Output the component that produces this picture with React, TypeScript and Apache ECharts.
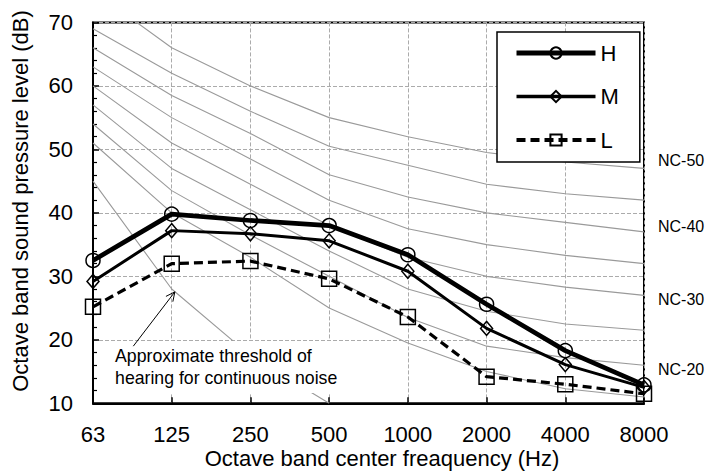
import React, { useEffect, useRef } from 'react';
import * as echarts from 'echarts';

const freqLabels = ['63', '125', '250', '500', '1000', '2000', '4000', '8000'];

const hValues = [32.5, 39.8, 38.8, 38.0, 33.4, 25.6, 18.3, 12.9];
const mValues = [29.2, 37.2, 36.7, 35.6, 30.8, 21.8, 16.1, 12.5];
const lValues = [25.2, 32.0, 32.4, 29.6, 23.6, 14.2, 13.0, 11.5];

const nc50 = [75, 66, 60, 55, 52, 49.5, 48, 47];
const nc45 = [69, 62, 56, 50.5, 47.5, 44.5, 43, 42];
const nc40 = [66, 58.5, 52.5, 46, 42.5, 40, 38.5, 37];
const nc35 = [63, 55, 48.5, 42, 37.5, 35, 33.3, 32];
const nc30 = [60, 51, 44.5, 38, 33, 30, 28.3, 27];
const nc25 = [57, 47, 40.5, 34, 28, 24.5, 22.5, 21.5];
const nc20 = [54, 43.5, 36.5, 30, 23.5, 19, 17.2, 16];
const nc15 = [51, 40, 33, 25, 19.5, 15, 12.3, 11];
const thresholdValues = [45, 28, 17.5, 10];

const ncLabels = ['NC-50', '', 'NC-40', '', 'NC-30', '', 'NC-20', ''];
const ncLabelOffsets = [-8, 0, -5, 0, 4, 0, 4, 0];

const yTitle = 'Octave band sound pressure level (dB)';
const xTitle = 'Octave band center freaquency (Hz)';
const noteLines = ['Approximate threshold of', 'hearing for continuous noise'];
// annotation anchor points in data coordinates [band index, dB]
const noteAnchor = [0.28, 17.46];
const arrowTail = [0.512, 19.0];
const arrowTip = [1.04, 27.55];

const FONT = 'Arial, "Liberation Sans", sans-serif';

export default function App() {
  const ref = useRef<HTMLDivElement>(null);
  useEffect(() => {
    const chart = echarts.init(ref.current!, null, { renderer: 'svg' });
    const toPts = (arr: number[]) => arr.map((v, i) => [i, v]);
    const ncCurves = [nc50, nc45, nc40, nc35, nc30, nc25, nc20, nc15];
    const ncSeries: any[] = ncCurves.map((c, k) => ({
      type: 'line',
      name: 'nc' + k,
      data: toPts(c),
      silent: true,
      symbol: 'none',
      clip: true,
      z: 1,
      lineStyle: { color: '#9a9a9a', width: 1.1 },
      endLabel: ncLabels[k]
        ? {
            show: true,
            formatter: ncLabels[k],
            color: '#000',
            fontSize: 16,
            fontFamily: FONT,
            distance: 14,
            offset: [0, ncLabelOffsets[k]],
          }
        : { show: false },
    }));
    ncSeries.push({
      type: 'line',
      name: 'threshold',
      data: toPts(thresholdValues),
      silent: true,
      symbol: 'none',
      clip: true,
      z: 1,
      lineStyle: { color: '#9a9a9a', width: 1.1 },
    });

    const option: any = {
      animation: false,
      backgroundColor: '#fff',
      grid: {
        left: 93,
        right: 77,
        top: 22.4,
        bottom: 69.7,
        show: true,
        borderColor: '#000',
        borderWidth: 2,
        containLabel: false,
      },
      legend: {
        data: [
          { name: 'H', lineStyle: { width: 5, color: '#000' } },
          { name: 'M', lineStyle: { width: 3.6, color: '#000' } },
          { name: 'L', lineStyle: { width: 4, type: [9, 5], color: '#000' } },
        ],
        orient: 'vertical',
        left: 497,
        top: 32,
        itemWidth: 79,
        itemHeight: 14,
        itemGap: 21.5,
        padding: [10, 21, 11, 17],
        borderColor: '#000',
        borderWidth: 1.5,
        backgroundColor: '#fff',
        textStyle: { fontSize: 22, color: '#000', fontFamily: FONT },
        z: 10,
      },
      xAxis: {
        type: 'value',
        min: 0,
        max: 7,
        interval: 1,
        axisLine: { show: true, lineStyle: { color: '#000', width: 2 } },
        axisTick: { show: true, inside: true, length: 6, lineStyle: { color: '#000', width: 1.5 } },
        axisLabel: {
          formatter: (v: number) => freqLabels[Math.round(v)] ?? '',
          fontSize: 22,
          color: '#000',
          fontFamily: FONT,
          margin: 20,
        },
        splitLine: { show: true, lineStyle: { color: '#ababab', type: [4, 2], width: 1 } },
      },
      yAxis: {
        type: 'value',
        min: 10,
        max: 70,
        interval: 10,
        axisLine: { show: true, lineStyle: { color: '#000', width: 2 } },
        axisTick: { show: true, inside: true, length: 6, lineStyle: { color: '#000', width: 1.5 } },
        minorTick: { show: true, splitNumber: 5, length: 4, lineStyle: { color: '#000', width: 1.2 } },
        axisLabel: { fontSize: 22, color: '#000', fontFamily: FONT, margin: 20 },
        splitLine: { show: true, lineStyle: { color: '#ababab', type: [4, 2], width: 1 } },
      },
      series: [
        ...ncSeries,
        {
          type: 'line',
          name: 'H',
          data: toPts(hValues),
          symbol: 'circle',
          symbolSize: 14,
          z: 5,
          lineStyle: { color: '#000', width: 4.7 },
          itemStyle: { color: 'transparent', borderColor: '#000', borderWidth: 1.5 },
        },
        {
          type: 'line',
          name: 'M',
          data: toPts(mValues),
          symbol: 'diamond',
          symbolSize: [12, 14],
          z: 5,
          lineStyle: { color: '#000', width: 3 },
          itemStyle: { color: 'transparent', borderColor: '#000', borderWidth: 1.5 },
        },
        {
          type: 'line',
          name: 'L',
          data: toPts(lValues),
          symbol: 'rect',
          symbolSize: 15,
          z: 5,
          lineStyle: { color: '#000', width: 3.2, type: [9, 5] },
          itemStyle: { color: 'transparent', borderColor: '#000', borderWidth: 1.5 },
        },
      ],
    };
    chart.setOption(option);

    const p = (d: number[]) => chart.convertToPixel({ xAxisIndex: 0, yAxisIndex: 0 }, d) as number[];
    const a = p(noteAnchor);
    const t0 = p(arrowTail);
    const t1 = p(arrowTip);
    const ang = Math.atan2(t1[1] - t0[1], t1[0] - t0[0]);
    const hl = 10;
    const spread = 0.45;
    const h1 = [t1[0] - hl * Math.cos(ang - spread), t1[1] - hl * Math.sin(ang - spread)];
    const h2 = [t1[0] - hl * Math.cos(ang + spread), t1[1] - hl * Math.sin(ang + spread)];

    chart.setOption({
      graphic: [
        {
          type: 'text',
          x: 20,
          y: 201,
          rotation: Math.PI / 2,
          style: {
            text: yTitle,
            fontSize: 22,
            fontFamily: FONT,
            fill: '#000',
            textAlign: 'center',
            textVerticalAlign: 'middle',
          },
        },
        {
          type: 'text',
          x: 382,
          y: 458,
          style: {
            text: xTitle,
            fontSize: 22,
            fontFamily: FONT,
            fill: '#000',
            textAlign: 'center',
            textVerticalAlign: 'middle',
          },
        },
        {
          type: 'text',
          x: a[0] - 4,
          y: a[1] - 11 - 4,
          z: 20,
          style: {
            text: noteLines.join('\n'),
            fontSize: 17.7,
            lineHeight: 22,
            fontFamily: FONT,
            fill: '#000',
            backgroundColor: '#fff',
            padding: [4, 0, 4, 4],
            textAlign: 'left',
            textVerticalAlign: 'top',
          },
        },
        {
          type: 'line',
          z: 20,
          shape: { x1: t0[0], y1: t0[1], x2: t1[0], y2: t1[1] },
          style: { stroke: '#000', lineWidth: 1 },
        },
        {
          type: 'polyline',
          z: 20,
          shape: { points: [h1, t1, h2] },
          style: { stroke: '#000', lineWidth: 1, fill: null },
        },
      ],
    });

    return () => chart.dispose();
  }, []);
  return <div ref={ref} style={{ position: 'absolute', left: 0, top: 0, width: 721, height: 473 }} />;
}
